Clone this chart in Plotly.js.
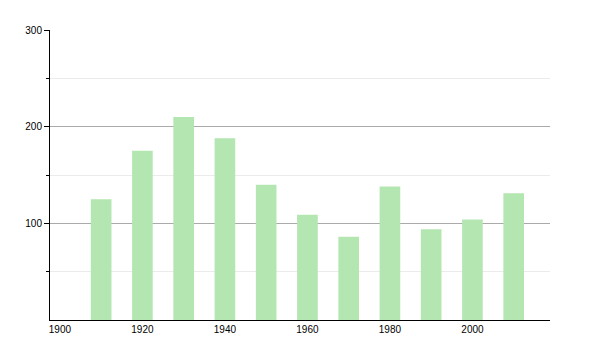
<!DOCTYPE html>
<html>
<head>
<meta charset="utf-8">
<script src="https://cdn.plot.ly/plotly-3.0.1.min.js"></script>
<style>html,body{margin:0;padding:0;background:#fff;}#chart{width:600px;height:350px;}</style>
</head>
<body>
<div id="chart"></div>
<script>
const years = [1910, 1920, 1930, 1940, 1950, 1960, 1970, 1980, 1990, 2000, 2010];
const values = [125, 175, 210, 188, 140, 109, 86, 138, 94, 104, 131];
const xTickVals = [1900, 1920, 1940, 1960, 1980, 2000];
const yTickVals = [100, 200, 300];

const trace = {
  type: 'bar',
  x: years,
  y: values,
  width: 5,
  marker: {color: '#b3e6b1', line: {width: 0}},
  hoverinfo: 'x+y'
};

const layout = {
  width: 600,
  height: 350,
  margin: {l: 50, r: 50, t: 30, b: 30, pad: 0},
  paper_bgcolor: '#ffffff',
  plot_bgcolor: '#ffffff',
  showlegend: false,
  font: {family: 'Liberation Sans, Arial, sans-serif', size: 10, color: '#000'},
  xaxis: {
    range: [1897.6, 2018.8],
    tickvals: xTickVals,
    ticktext: xTickVals.map(String),
    ticks: '',
    showgrid: false,
    zeroline: false,
    showline: true,
    linecolor: '#000',
    linewidth: 1,
    tickfont: {size: 10, color: '#000'}
  },
  yaxis: {
    range: [0, 300],
    tickvals: yTickVals,
    ticktext: yTickVals.map(String),
    ticks: 'outside',
    ticklen: 5,
    tickcolor: '#000',
    showgrid: true,
    gridcolor: '#aaaaaa',
    gridwidth: 1,
    zeroline: false,
    showline: true,
    linecolor: '#000',
    linewidth: 1,
    tickfont: {size: 10, color: '#000'},
    minor: {
      tickvals: [50, 150, 250],
      ticks: 'outside',
      ticklen: 3,
      tickcolor: '#000',
      showgrid: true,
      gridcolor: '#ebebeb',
      gridwidth: 1
    }
  }
};

Plotly.newPlot('chart', [trace], layout, {displayModeBar: false, staticPlot: true});
</script>
</body>
</html>
